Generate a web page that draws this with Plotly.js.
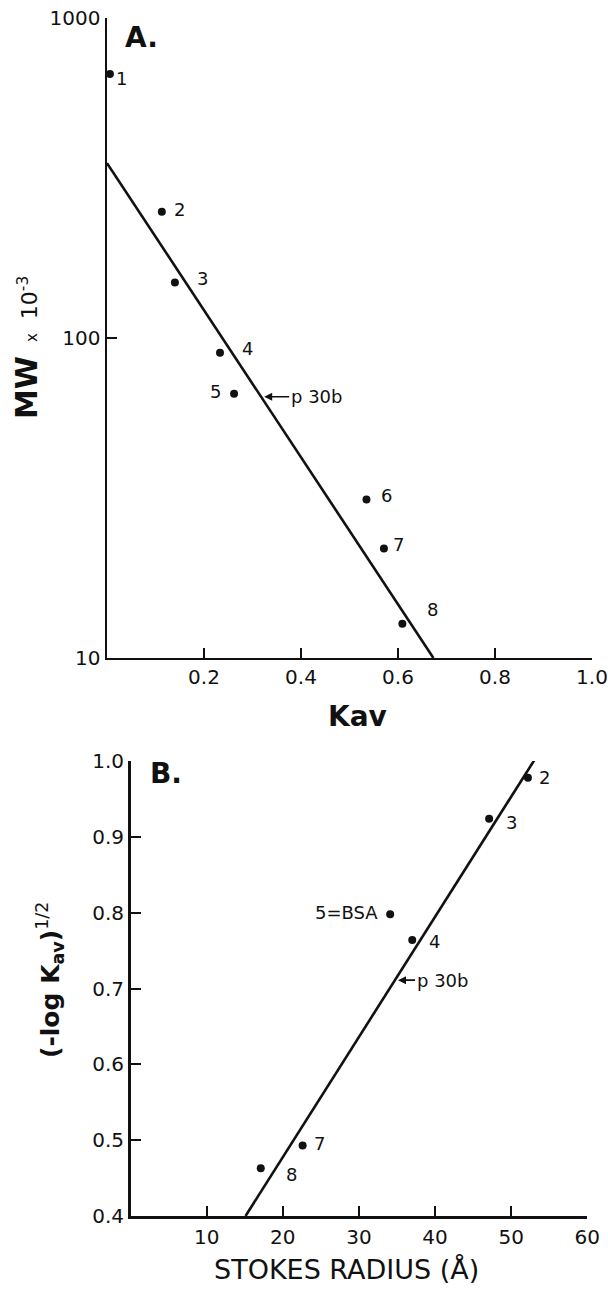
<!DOCTYPE html>
<html>
<head>
<meta charset="utf-8">
<script src="https://cdn.plot.ly/plotly-3.0.1.min.js"></script>
<style>
html,body{margin:0;padding:0;background:#fff;}
#chart{width:608px;height:1289px;}
</style>
</head>
<body>
<div id="chart"></div>
<script>
// ---------- Panel A data ----------
const topIds = ['1','2','3','4','5','6','7','8'];
const topKav = [0.006, 0.113, 0.140, 0.233, 0.262, 0.535, 0.571, 0.609];
const topMW = [668, 248, 149, 90, 67, 31.3, 22, 12.8];
const topFitKav = [0, 0.673];
const topFitMW = [352, 10];
const topP30bKav = 0.322;
const topP30bMW = 65.5;
const topXTicks = [0.2, 0.4, 0.6, 0.8, 1.0];
const topXTickText = ['0.2', '0.4', '0.6', '0.8', '1.0'];
const topYTicks = [10, 100, 1000];
const topYTickText = ['10', '100', '1000'];

// ---------- Panel B data ----------
const botIds = ['2','3','4','5=BSA','7','8'];
const botRadius = [52.2, 47.1, 37.0, 34.1, 22.6, 17.1];
const botK = [0.978, 0.924, 0.764, 0.798, 0.493, 0.463];
const botFitRadius = [15.1, 53.6];
const botFitK = [0.4, 1.01];
const botP30bRadius = 35.0;
const botP30bK = 0.711;
const botXTicks = [10, 20, 30, 40, 50, 60];
const botXTickText = ['10', '20', '30', '40', '50', '60'];
const botYTicks = [0.4, 0.5, 0.6, 0.7, 0.8, 0.9, 1.0];
const botYTickText = ['0.4', '0.5', '0.6', '0.7', '0.8', '0.9', '1.0'];

// label offsets (pixels) relative to each point
const topLabelDx = [12, 18, 28, 27, -19, 20, 15, 30];
const topLabelDy = [-4, 2, 4, 4, 2, 4, 4, 14];
const botLabelDx = [17, 22, 22, -10, 17, 31];
const botLabelDy = [0, -4, -2, 2, 2, -6];

const FONT = 'DejaVu Sans, Liberation Sans, sans-serif';
const BLACK = '#111';

const traces = [
  {x: topFitKav, y: topFitMW, xaxis: 'x', yaxis: 'y', mode: 'lines',
   line: {color: BLACK, width: 2.6}, cliponaxis: false, hoverinfo: 'skip'},
  {x: topKav, y: topMW, xaxis: 'x', yaxis: 'y', mode: 'markers',
   marker: {color: BLACK, size: 8}, cliponaxis: false},
  {x: botFitRadius, y: botFitK, xaxis: 'x2', yaxis: 'y2', mode: 'lines',
   line: {color: BLACK, width: 2.6}, cliponaxis: false, hoverinfo: 'skip'},
  {x: botRadius, y: botK, xaxis: 'x2', yaxis: 'y2', mode: 'markers',
   marker: {color: BLACK, size: 8}, cliponaxis: false}
];

const ann = [];
topIds.forEach((t, i) => {
  ann.push({x: topKav[i], y: Math.log10(topMW[i]), xref: 'x', yref: 'y', text: t,
    showarrow: false, xshift: topLabelDx[i], yshift: topLabelDy[i],
    xanchor: 'center', yanchor: 'middle',
    font: {family: FONT, size: 18, color: BLACK}});
});
botIds.forEach((t, i) => {
  ann.push({x: botRadius[i], y: botK[i], xref: 'x2', yref: 'y2', text: t,
    showarrow: false, xshift: botLabelDx[i], yshift: botLabelDy[i],
    xanchor: t.length > 1 ? 'right' : 'center', yanchor: 'middle',
    font: {family: FONT, size: 18, color: BLACK}});
});
// p30b arrows
ann.push({x: topP30bKav, y: Math.log10(topP30bMW), xref: 'x', yref: 'y', text: 'p 30b',
  showarrow: true, ax: 53, ay: 0, arrowhead: 2, arrowsize: 1, arrowwidth: 1.6,
  arrowcolor: BLACK, standoff: 1, font: {family: FONT, size: 18, color: BLACK}});
ann.push({x: botP30bRadius, y: botP30bK, xref: 'x2', yref: 'y2', text: 'p 30b',
  showarrow: true, ax: 45, ay: 0, arrowhead: 2, arrowsize: 1, arrowwidth: 1.6,
  arrowcolor: BLACK, standoff: 1, font: {family: FONT, size: 18, color: BLACK}});

function paperAnn(px, py, text, font, extra) {
  return Object.assign({
    x: (px - 100) / 498, y: (1229 - py) / 1219, xref: 'paper', yref: 'paper',
    xanchor: 'center', yanchor: 'middle', text: text, showarrow: false,
    font: Object.assign({family: FONT, color: BLACK}, font)
  }, extra || {});
}

// panel letters
ann.push(paperAnn(141, 37, '<b>A.</b>', {size: 28}));
ann.push(paperAnn(166, 773, '<b>B.</b>', {size: 28}));

// axis titles
ann.push(paperAnn(357, 717, '<b>Kav</b>', {size: 28}));
ann.push(paperAnn(346, 1269, 'STOKES RADIUS (Å)', {size: 27}));
ann.push(paperAnn(27, 348,
  "<span style='font-size:30px;font-weight:bold'>MW</span>  <span style='font-size:15px'>x</span>  <span style='font-size:22px'>10</span><sup>-3</sup>",
  {size: 22}, {textangle: -90}));
ann.push(paperAnn(50, 980, "<b>(-log K<sub>av</sub>)</b><sup>1/2</sup>",
  {size: 25}, {textangle: -90}));

const axBase = {
  showline: true, linewidth: 2.5, linecolor: BLACK, mirror: false,
  ticks: 'inside', ticklen: 10, tickwidth: 2, tickcolor: BLACK,
  showgrid: false, zeroline: false, fixedrange: true,
  tickfont: {family: FONT, size: 20, color: BLACK}
};

const layout = {
  width: 608, height: 1289,
  margin: {l: 100, r: 10, t: 10, b: 60},
  paper_bgcolor: '#fff', plot_bgcolor: '#fff',
  showlegend: false,
  xaxis: Object.assign({}, axBase, {domain: [0.01406, 0.98795], range: [0, 1.0], anchor: 'y',
    tickmode: 'array', tickvals: topXTicks, ticktext: topXTickText, ticklabelstandoff: 0}),
  yaxis: Object.assign({}, axBase, {domain: [0.46842, 0.99344], type: 'log', range: [1, 3], anchor: 'x',
    tickmode: 'array', tickvals: topYTicks, ticktext: topYTickText, ticklabelstandoff: 0}),
  xaxis2: Object.assign({}, axBase, {domain: [0.06145, 0.97851], range: [0, 60], anchor: 'y2',
    tickmode: 'array', tickvals: botXTicks, ticktext: botXTickText, ticklabelstandoff: 1}),
  yaxis2: Object.assign({}, axBase, {domain: [0.010664, 0.38392], range: [0.4, 1.0], anchor: 'x2',
    tickmode: 'array', tickvals: botYTicks, ticktext: botYTickText, ticklabelstandoff: 0}),
  annotations: ann
};

Plotly.newPlot('chart', traces, layout, {staticPlot: true, displayModeBar: false});
</script>
</body>
</html>
